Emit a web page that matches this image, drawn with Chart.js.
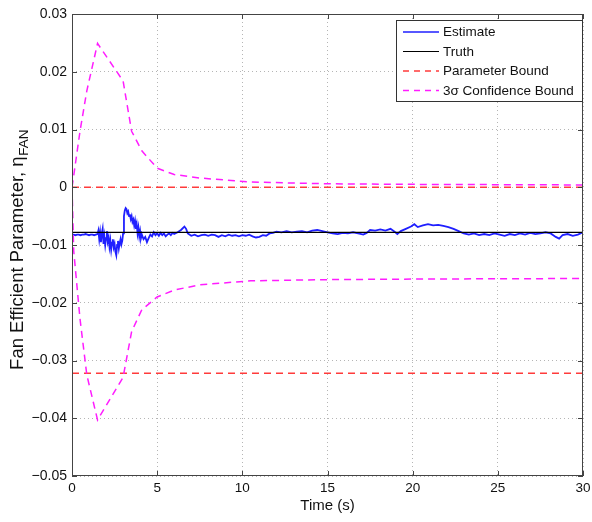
<!DOCTYPE html>
<html>
<head>
<meta charset="utf-8">
<script src="https://cdn.jsdelivr.net/npm/chart.js@4.4.1/dist/chart.umd.min.js"></script>
<style>
  html, body { margin: 0; padding: 0; background: #fff; }
  #wrap { width: 592px; height: 522px; }
</style>
</head>
<body>
<div id="wrap"><canvas id="chart" width="592" height="522"></canvas></div>
<script>
// estimate of eta_FAN (time in s)
const estTime = [
  0, 0.1, 0.2, 0.3, 0.4, 0.5, 0.6, 0.7, 0.8, 0.9, 1.0, 1.1, 1.2, 1.3, 1.4, 1.5,
  1.55, 1.6, 1.65, 1.7, 1.75, 1.8, 1.85, 1.9, 1.95, 2.0, 2.05, 2.1, 2.15, 2.2, 2.25,
  2.3, 2.35, 2.4, 2.45, 2.5, 2.55, 2.6, 2.65, 2.7, 2.75, 2.8, 2.85, 2.9, 2.95, 3.0,
  3.05, 3.1, 3.15, 3.2, 3.25, 3.3, 3.35, 3.4, 3.45, 3.5, 3.55, 3.6, 3.65, 3.7, 3.75,
  3.8, 3.85, 3.9, 3.95, 4.0, 4.05, 4.1, 4.2, 4.3, 4.4, 4.5, 4.6, 4.7, 4.8, 4.9,
  5.0, 5.1, 5.2, 5.3, 5.4, 5.5, 5.6, 5.7, 5.8, 5.9, 6.0, 6.2, 6.4, 6.6, 6.7, 6.8,
  7.0, 7.2, 7.4, 7.6, 7.8, 8.0, 8.2, 8.4, 8.6, 8.8, 9.0, 9.2, 9.4, 9.6, 9.8,
  10.0, 10.2, 10.4, 10.6, 10.8, 11.0, 11.2, 11.4, 11.6, 11.8, 12.0, 12.3, 12.6, 12.9,
  13.2, 13.5, 13.8, 14.1, 14.4, 14.7, 15.0, 15.3, 15.6, 15.9, 16.2, 16.5, 16.8, 17.1,
  17.3, 17.5, 17.8, 18.1, 18.4, 18.7, 18.9, 19.1, 19.3, 19.6, 19.9, 20.1, 20.3, 20.6,
  20.9, 21.2, 21.5, 21.8, 22.1, 22.4, 22.7, 23.0, 23.3, 23.6, 23.9, 24.2, 24.5, 24.8,
  25.1, 25.4, 25.7, 26.0, 26.3, 26.6, 26.9, 27.2, 27.5, 27.8, 28.1, 28.4, 28.6, 28.8,
  29.1, 29.4, 29.7, 30.0
];
const estValue = [
  -0.0082, -0.0082, -0.0083, -0.0082, -0.0082, -0.0083, -0.0082, -0.0082, -0.0081, -0.0082, -0.0083, -0.0082, -0.0082, -0.0083, -0.0082, -0.0081,
  -0.0075, -0.0090, -0.0078, -0.0095, -0.0080, -0.0072, -0.0098, -0.0085, -0.0100, -0.0088, -0.0076, -0.0094, -0.0087, -0.0103, -0.0092,
  -0.0108, -0.0096, -0.0090, -0.0104, -0.0098, -0.0112, -0.0118, -0.0100, -0.0093, -0.0106, -0.0097, -0.0090, -0.0099, -0.0093, -0.0080,
  -0.0050, -0.0040, -0.0036, -0.0038, -0.0045, -0.0042, -0.0050, -0.0047, -0.0055, -0.0050, -0.0060, -0.0056, -0.0066, -0.0058, -0.0072,
  -0.0064, -0.0080, -0.0070, -0.0085, -0.0076, -0.0088, -0.0082, -0.0090, -0.0086, -0.0095, -0.0088, -0.0082, -0.0085, -0.0078, -0.0083,
  -0.0080, -0.0084, -0.0079, -0.0083, -0.0080, -0.0085, -0.0082, -0.0080, -0.0083, -0.0079, -0.0081, -0.0078, -0.0074, -0.0068, -0.0072, -0.0080,
  -0.0084, -0.0082, -0.0085, -0.0083, -0.0082, -0.0084, -0.0082, -0.0083, -0.0086, -0.0083, -0.0085, -0.0082, -0.0084, -0.0083, -0.0085,
  -0.0083, -0.0084, -0.0082, -0.0085, -0.0087, -0.0086, -0.0083, -0.0084, -0.0080, -0.0079, -0.0077, -0.0078, -0.0076, -0.0078,
  -0.0077, -0.0076, -0.0078, -0.0075, -0.0074, -0.0076, -0.0078, -0.0080, -0.0081, -0.0079, -0.0080, -0.0078, -0.0080, -0.0082,
  -0.0079, -0.0074, -0.0075, -0.0073, -0.0075, -0.0072, -0.0076, -0.0081, -0.0076, -0.0072, -0.0068, -0.0064, -0.0069, -0.0066,
  -0.0064, -0.0066, -0.0065, -0.0067, -0.0069, -0.0072, -0.0076, -0.0080, -0.0082, -0.0080, -0.0083, -0.0081, -0.0083, -0.0080,
  -0.0082, -0.0084, -0.0081, -0.0083, -0.0080, -0.0082, -0.0079, -0.0081, -0.0080, -0.0078, -0.0080, -0.0086, -0.0089, -0.0083,
  -0.0081, -0.0084, -0.0082, -0.0078
];

const truthValue = -0.0078;
const paramBounds = [0, -0.0322];

// 3 sigma envelope
const sigmaTime  = [0, 0.1, 0.47, 0.87, 1.5, 3.0, 3.5, 4.1, 5.0, 6.0, 7.5, 10.5, 15, 20, 30];
const sigmaUpper = [0, 0.002, 0.0097, 0.0167, 0.0249, 0.0184, 0.0097, 0.0063, 0.0033, 0.0022, 0.0016, 0.0009, 0.0006, 0.0005, 0.0004];
const sigmaLower = [0, -0.011, -0.0228, -0.0325, -0.0403, -0.0329, -0.0250, -0.0212, -0.0190, -0.0178, -0.0169, -0.0162, -0.0160, -0.0159, -0.0158];

const legendLabels = ['Estimate', 'Truth', 'Parameter Bound', '3σ Confidence Bound'];

const FONT = '"Liberation Sans", Arial, Helvetica, sans-serif';

function pts(xs, ys) {
  return xs.map((x, i) => ({ x: x, y: ys[i] }));
}

const styles = {
  est:   { color: '#1f1fff', width: 1.8, dash: [] },
  truth: { color: '#000000', width: 1.2, dash: [] },
  bound: { color: '#ff3b3b', width: 1.5, dash: [7, 5] },
  sigma: { color: '#ff1cff', width: 1.5, dash: [7, 5] }
};

function line(label, data, st, order) {
  return {
    label: label,
    data: data,
    showLine: true,
    borderColor: st.color,
    borderWidth: st.width,
    borderDash: st.dash,
    pointRadius: 0,
    tension: 0,
    order: order
  };
}

const datasets = [
  line('Truth', [{ x: 0, y: truthValue }, { x: 30, y: truthValue }], styles.truth, 2),
  line('Estimate', pts(estTime, estValue), styles.est, 3),
  line('Parameter Bound', [{ x: 0, y: paramBounds[0] }, { x: 30, y: paramBounds[0] }], styles.bound, 1),
  line('Parameter Bound (low)', [{ x: 0, y: paramBounds[1] }, { x: 30, y: paramBounds[1] }], styles.bound, 1),
  line('3σ Confidence Bound', pts(sigmaTime, sigmaUpper), styles.sigma, 0),
  line('3σ lower', pts(sigmaTime, sigmaLower), styles.sigma, 0)
];

// box, inward ticks, legend and the y title with subscript
const decor = {
  id: 'decor',
  afterDraw(chart) {
    const ctx = chart.ctx;
    const a = chart.chartArea;
    const xs = chart.scales.x, ys = chart.scales.y;
    ctx.save();

    ctx.strokeStyle = '#444';
    ctx.lineWidth = 1;
    ctx.setLineDash([]);
    ctx.strokeRect(a.left + 0.5, a.top + 0.5, a.right - a.left - 1, a.bottom - a.top - 1);

    ctx.beginPath();
    xs.ticks.forEach(t => {
      const px = Math.round(xs.getPixelForValue(t.value)) + 0.5;
      ctx.moveTo(px, a.bottom); ctx.lineTo(px, a.bottom - 5);
      ctx.moveTo(px, a.top); ctx.lineTo(px, a.top + 5);
    });
    ys.ticks.forEach(t => {
      const py = Math.round(ys.getPixelForValue(t.value)) + 0.5;
      ctx.moveTo(a.left, py); ctx.lineTo(a.left + 5, py);
      ctx.moveTo(a.right, py); ctx.lineTo(a.right - 5, py);
    });
    ctx.stroke();

    // legend
    const lx = 396, ly = 20, lw = a.right - 1 - 396, lh = 81;
    ctx.fillStyle = '#fff';
    ctx.fillRect(lx, ly, lw, lh);
    ctx.strokeStyle = '#333';
    ctx.strokeRect(lx + 0.5, ly + 0.5, lw, lh);
    const legendStyles = [styles.est, styles.truth, styles.bound, styles.sigma];
    ctx.font = '13.5px ' + FONT;
    ctx.textBaseline = 'middle';
    ctx.textAlign = 'left';
    legendLabels.forEach((lab, i) => {
      const y = 32 + i * 19.5;
      const st = legendStyles[i];
      ctx.strokeStyle = st.color;
      ctx.lineWidth = Math.min(st.width, 1.5);
      ctx.setLineDash(st.dash.length ? [6, 5] : []);
      ctx.beginPath();
      ctx.moveTo(403, y); ctx.lineTo(439, y);
      ctx.stroke();
      ctx.setLineDash([]);
      ctx.fillStyle = '#111';
      ctx.fillText(lab, 443, y + 0.5);
    });

    // y axis title
    const main = 'Fan Efficient Parameter, η';
    const sub = 'FAN';
    ctx.translate(18, 250);
    ctx.rotate(-Math.PI / 2);
    ctx.textBaseline = 'middle';
    ctx.font = '18.5px ' + FONT;
    const w1 = ctx.measureText(main).width;
    ctx.font = '13.5px ' + FONT;
    const w2 = ctx.measureText(sub).width;
    const x0 = -(w1 + w2) / 2;
    ctx.fillStyle = '#111';
    ctx.font = '18.5px ' + FONT;
    ctx.fillText(main, x0, 0);
    ctx.font = '13.5px ' + FONT;
    ctx.fillText(sub, x0 + w1 + 0.5, 6);

    ctx.restore();
  }
};

function fmtY(v) {
  const r = Math.round(v * 100) / 100;
  if (r === 0) return '0';
  return (r < 0 ? '\u2212' : '') + Math.abs(r).toFixed(2);
}

new Chart(document.getElementById('chart'), {
  type: 'scatter',
  data: { datasets: datasets },
  options: {
    responsive: false,
    animation: false,
    layout: { padding: { top: 14, right: 9, left: 0, bottom: 0 } },
    plugins: {
      legend: { display: false },
      tooltip: { enabled: false }
    },
    scales: {
      x: {
        type: 'linear',
        min: 0,
        max: 30,
        ticks: { stepSize: 5, color: '#111', font: { family: FONT, size: 13.5 }, padding: 4, maxRotation: 0 },
        grid: { color: '#b5b5b5', drawTicks: false },
        border: { display: false, dash: [1, 3] },
        title: { display: true, text: 'Time (s)', color: '#111', font: { family: FONT, size: 15 }, padding: { top: 0, bottom: 7 } },
        afterFit: s => { s.height = 46; s.paddingRight = 0; s.paddingLeft = 0; }
      },
      y: {
        type: 'linear',
        min: -0.05,
        max: 0.03,
        ticks: { stepSize: 0.01, color: '#111', font: { family: FONT, size: 14 }, padding: 5, callback: v => fmtY(v) },
        grid: { color: '#b5b5b5', drawTicks: false },
        border: { display: false, dash: [1, 3] },
        afterFit: s => { s.width = 72; s.paddingTop = 0; s.paddingBottom = 0; }
      }
    }
  },
  plugins: [decor]
});
</script>
</body>
</html>
